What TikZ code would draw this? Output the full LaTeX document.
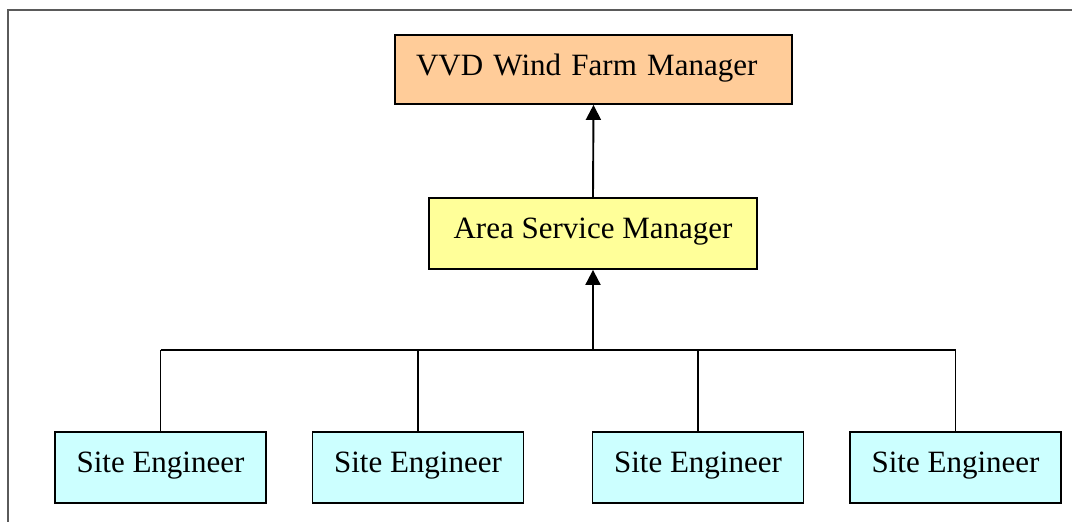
\documentclass[tikz,border=0pt]{standalone}
\usepackage{fontspec}
\setmainfont{Liberation Serif}
\usetikzlibrary{arrows.meta}
\definecolor{vvdfill}{HTML}{FFCC99}
\definecolor{asmfill}{HTML}{FFFF99}
\definecolor{sitefill}{HTML}{CCFFFF}
\definecolor{framecol}{HTML}{5A5A5A}
\begin{document}
\begin{tikzpicture}[x=1pt,y=-1pt,
  box/.style={draw=black, line width=1.8pt, inner sep=0pt, font=\fontsize{31}{36}\selectfont,
              text height=21pt, text depth=11pt},
  sitebox/.style={box, fill=sitefill, minimum width=211pt, minimum height=71pt},
  link/.style={line width=1.4pt},
  uparrow/.style={line width=1.9pt, -{Triangle[length=15pt,width=15pt]}}]
\useasboundingbox (0,0) rectangle (1072,522);
\clip (0,0) rectangle (1072,522);
\fill[white] (0,0) rectangle (1072,522);
\draw[framecol, line width=2pt] (7.5,10) rectangle (1090,540);

\node[box, fill=vvdfill, minimum height=69pt, text width=355pt, inner xsep=21pt, align=left,
      text depth=10pt]
  (vvd) at (593.5,69.5) {VVD Wind Farm Manager};
\node[box, fill=asmfill, minimum width=328pt, minimum height=71pt]
  (asm) at (593,233.5) {Area Service Manager};

\node[sitebox] (s1) at (160.5,467.5) {Site Engineer};
\node[sitebox] (s2) at (418,467.5) {Site Engineer};
\node[sitebox] (s3) at (698,467.5) {Site Engineer};
\node[sitebox] (s4) at (955.5,467.5) {Site Engineer};

\coordinate (busL) at (160.5,350);
\coordinate (busR) at (955.5,350);
\coordinate (busM) at (593,350);

\draw[link] (busL) -- (busR);
\draw[link] (s1.north) -- (s1.north |- busL);
\draw[link] (s2.north) -- (s2.north |- busL);
\draw[link] (s3.north) -- (s3.north |- busL);
\draw[link] (s4.north) -- (s4.north |- busL);
\draw[uparrow] (busM) -- (asm.south);
\draw[uparrow] (asm.north) -- (vvd.south);
\end{tikzpicture}
\end{document}
